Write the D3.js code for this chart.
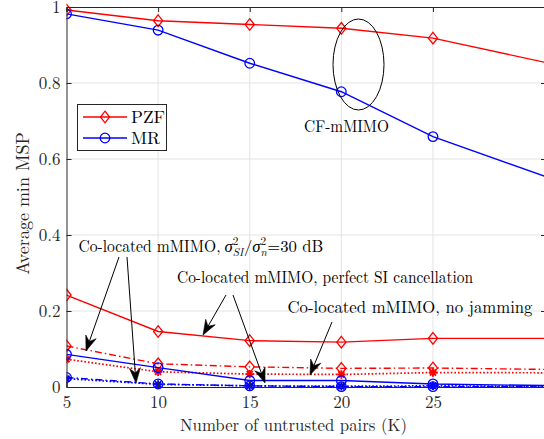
<!DOCTYPE html>
<html>
<head>
<meta charset="utf-8">
<script src="https://cdn.jsdelivr.net/npm/d3@7"></script>
<style>
  html, body { margin: 0; padding: 0; background: #fff; }
</style>
</head>
<body>
<svg id="chart" width="544" height="439"></svg>
<script>
// Number of untrusted pairs
const pairs = [5, 10, 15, 20, 25, 35];

// Average minimum MSP per scheme
const cfPZF        = [0.992, 0.964, 0.954, 0.944, 0.918, 0.814];
const cfMR         = [0.982, 0.939, 0.852, 0.777, 0.659, 0.488];
const coPZFPerfect = [0.242, 0.146, 0.122, 0.118, 0.128, 0.128];
const coPZF30dB    = [0.108, 0.061, 0.053, 0.049, 0.050, 0.044];
const coPZFNoJam   = [0.073, 0.040, 0.034, 0.033, 0.038, 0.037];
const coMRPerfect  = [0.086, 0.051, 0.017, 0.017, 0.008, 0.001];
const coMR30dB     = [0.025, 0.008, 0.003, 0.001, 0.001, 0.000];
const coMRNoJam    = [0.022, 0.007, 0.003, 0.002, 0.003, 0.001];

const xTicks = [5, 10, 15, 20, 25];
const yTicks = [0, 0.2, 0.4, 0.6, 0.8, 1];
const legendLabels = ["PZF", "MR"];

const RED = "#ff0000", BLUE = "#0000ff", AXIS = "#262626", GRID = "#e3e3e3";
const DASHDOT = "7,3,1.5,3", DOTTED = "1.6,2";
const SERIF = "'Latin Modern Roman', 'Liberation Serif', serif";
const GREEK = "'Liberation Serif', serif";

const svg = d3.select("#chart");
const plot = { left: 66.5, right: 546, top: 7, bottom: 387 };

const x = d3.scaleLinear().domain([5, 31.17]).range([plot.left, plot.right]);
const y = d3.scaleLinear().domain([0, 1]).range([plot.bottom, plot.top]);

svg.append("defs").append("clipPath").attr("id", "plotClip")
  .append("rect")
  .attr("x", plot.left).attr("y", plot.top - 8)
  .attr("width", plot.right - plot.left).attr("height", plot.bottom - plot.top + 16);

// grid
const grid = svg.append("g");
grid.selectAll("line.gx").data(xTicks.slice(1)).join("line")
  .attr("x1", d => x(d)).attr("x2", d => x(d))
  .attr("y1", plot.top).attr("y2", plot.bottom)
  .attr("stroke", GRID).attr("stroke-width", 1);
grid.selectAll("line.gy").data(yTicks.slice(1, -1)).join("line")
  .attr("y1", d => y(d)).attr("y2", d => y(d))
  .attr("x1", plot.left).attr("x2", plot.right)
  .attr("stroke", GRID).attr("stroke-width", 1);

// series
const series = [
  { vals: cfPZF,        color: RED,  dash: null,    marker: "diamond" },
  { vals: cfMR,         color: BLUE, dash: null,    marker: "circle" },
  { vals: coPZFPerfect, color: RED,  dash: null,    marker: "diamond" },
  { vals: coPZF30dB,    color: RED,  dash: DASHDOT, marker: "diamond" },
  { vals: coPZFNoJam,   color: RED,  dash: DOTTED,  marker: "star" },
  { vals: coMRPerfect,  color: BLUE, dash: null,    marker: "circle" },
  { vals: coMR30dB,     color: BLUE, dash: DASHDOT, marker: "circle" },
  { vals: coMRNoJam,    color: BLUE, dash: DOTTED,  marker: "star" }
];

const line = d3.line().x(d => x(d.k)).y(d => y(d.v));
const plotG = svg.append("g").attr("clip-path", "url(#plotClip)");

function drawMarker(g, type, cx, cy, color) {
  if (type === "diamond") {
    g.append("path")
      .attr("d", `M${cx},${cy - 5.8}L${cx + 4.6},${cy}L${cx},${cy + 5.8}L${cx - 4.6},${cy}Z`)
      .attr("fill", "none").attr("stroke", color).attr("stroke-width", 1.3);
  } else if (type === "circle") {
    g.append("circle").attr("cx", cx).attr("cy", cy).attr("r", 4.8)
      .attr("fill", "none").attr("stroke", color).attr("stroke-width", 1.3);
  } else {
    const r = 4.2, s = r * 0.72;
    g.append("path")
      .attr("d", `M${cx - r},${cy}L${cx + r},${cy}M${cx},${cy - r}L${cx},${cy + r}` +
                 `M${cx - s},${cy - s}L${cx + s},${cy + s}M${cx - s},${cy + s}L${cx + s},${cy - s}`)
      .attr("fill", "none").attr("stroke", color).attr("stroke-width", 1.9);
  }
}

series.forEach(s => {
  const pts = pairs.map((k, i) => ({ k, v: s.vals[i] }));
  plotG.append("path").datum(pts)
    .attr("d", line)
    .attr("fill", "none")
    .attr("stroke", s.color)
    .attr("stroke-width", s.dash === DOTTED ? 1.7 : 1.4)
    .attr("stroke-dasharray", s.dash);
  const mg = plotG.append("g");
  pts.forEach(p => drawMarker(mg, s.marker, x(p.k), y(p.v), s.color));
});

// axes
const fontSize = 17;
const axB = svg.append("g").attr("transform", `translate(0,${plot.bottom})`)
  .call(d3.axisBottom(x).tickValues(xTicks).tickSize(-5).tickPadding(9).tickFormat(d3.format("d")));
const axL = svg.append("g").attr("transform", `translate(${plot.left},0)`)
  .call(d3.axisLeft(y).tickValues(yTicks).tickSize(-5).tickPadding(6).tickFormat(d => d === 0 || d === 1 ? String(d) : d3.format(".1f")(d)));
const axT = svg.append("g").attr("transform", `translate(0,${plot.top})`)
  .call(d3.axisTop(x).tickValues(xTicks).tickSize(-5).tickFormat(""));
const axR = svg.append("g").attr("transform", `translate(${plot.right},0)`)
  .call(d3.axisRight(y).tickValues(yTicks).tickSize(-5).tickFormat(""));
[axB, axL, axT, axR].forEach(a => {
  a.select(".domain").attr("stroke", AXIS).attr("stroke-width", 1);
  a.selectAll(".tick line").attr("stroke", AXIS).attr("stroke-width", 1);
  a.selectAll(".tick text").attr("fill", AXIS)
    .style("font-family", SERIF).style("font-size", fontSize + "px");
});

function label(parent, txt, size) {
  return parent.append("text").style("font-family", SERIF).style("font-size", size + "px").text(txt);
}

// axis titles
label(svg, "Number of untrusted pairs (K)", 17.5)
  .attr("x", 293.5).attr("y", 431)
  .attr("text-anchor", "middle").attr("fill", AXIS)
  .attr("textLength", 227).attr("lengthAdjust", "spacingAndGlyphs");
label(svg, "Average min MSP", 18)
  .attr("transform", "translate(29,203.5) rotate(-90)")
  .attr("text-anchor", "middle").attr("fill", AXIS);

// legend
const lg = svg.append("g");
lg.append("rect").attr("x", 77.5).attr("y", 104.5).attr("width", 89).attr("height", 46)
  .attr("fill", "#fff").attr("stroke", AXIS).attr("stroke-width", 1);
[{ label: legendLabels[0], color: RED, marker: "diamond", cy: 117 },
 { label: legendLabels[1], color: BLUE, marker: "circle", cy: 138 }].forEach(e => {
  lg.append("line").attr("x1", 83).attr("x2", 127).attr("y1", e.cy).attr("y2", e.cy)
    .attr("stroke", e.color).attr("stroke-width", 1.4);
  drawMarker(lg, e.marker, 105, e.cy, e.color);
  label(lg, e.label, 17.5).attr("x", 131).attr("y", e.cy + 6).attr("fill", "#000");
});

// annotations
const ann = svg.append("g");
ann.append("ellipse").attr("cx", 358.5).attr("cy", 64.5).attr("rx", 25.5).attr("ry", 45.5)
  .attr("fill", "none").attr("stroke", "#000").attr("stroke-width", 1);
label(ann, "CF-mMIMO", 17).attr("x", 346.5).attr("y", 132).attr("text-anchor", "middle")
  .attr("textLength", 85).attr("lengthAdjust", "spacingAndGlyphs");

label(ann, "Co-located mMIMO, perfect SI cancellation", 17)
  .attr("x", 177).attr("y", 283)
  .attr("textLength", 296).attr("lengthAdjust", "spacingAndGlyphs");
label(ann, "Co-located mMIMO, no jamming", 17)
  .attr("x", 287.5).attr("y", 313)
  .attr("textLength", 245).attr("lengthAdjust", "spacingAndGlyphs");

// label with the SI-to-noise ratio: text part, then the ratio set as math
(function () {
  const base = 252;
  const headW = 142;
  label(ann, "Co-located mMIMO,", 17).attr("x", 78.5).attr("y", base)
    .attr("textLength", headW).attr("lengthAdjust", "spacingAndGlyphs");
  const startX = 78.5 + headW + 4;
  const targetW = 99;

  function layout(k) {
    const g = ann.append("g");
    let cx = startX;
    function piece(str, opts) {
      const t = g.append("text").attr("x", cx).attr("y", base + (opts.dy || 0) * k)
        .style("font-family", opts.greek ? GREEK : SERIF)
        .style("font-size", (opts.size || 17) * k + "px")
        .style("font-style", opts.italic ? "italic" : "normal")
        .text(str);
      return t.node().getComputedTextLength();
    }
    function stacked(sup, sub) {
      const w1 = piece(sup, { size: 11.5, dy: -7 });
      const w2 = piece(sub, { size: 11.5, dy: 4, italic: true });
      cx += Math.max(w1, w2) + 0.5 * k;
    }
    cx += piece("σ", { italic: true, greek: true });
    stacked("2", "SI");
    cx += piece("/", {});
    cx += piece("σ", { italic: true, greek: true });
    stacked("2", "n");
    cx += piece("=30 dB", {});
    return { g, w: cx - startX };
  }
  const first = layout(1);
  const k = targetW / first.w;
  first.g.remove();
  layout(Math.max(0.78, Math.min(1.1, k)));
})();

// arrows
const arrows = [
  [119, 257, 86, 351],
  [127, 257, 136, 383],
  [226, 295, 203, 335],
  [233, 295, 265, 383],
  [332, 322, 310, 375]
];
arrows.forEach(([x1, y1, x2, y2]) => {
  const ang = Math.atan2(y2 - y1, x2 - x1);
  const L = 15, Wd = 5.5, N = 10;
  const ca = Math.cos(ang), sa = Math.sin(ang);
  const px = (a, b) => [x2 + a * ca - b * sa, y2 + a * sa + b * ca];
  const p1 = px(-L, -Wd), p2 = px(-N, 0), p3 = px(-L, Wd);
  const stop = px(-N, 0);
  ann.append("line").attr("x1", x1).attr("y1", y1).attr("x2", stop[0]).attr("y2", stop[1])
    .attr("stroke", "#000").attr("stroke-width", 1);
  ann.append("path")
    .attr("d", `M${x2},${y2}L${p1[0]},${p1[1]}L${p2[0]},${p2[1]}L${p3[0]},${p3[1]}Z`)
    .attr("fill", "#000").attr("stroke", "#000").attr("stroke-width", 0.6);
});
</script>
</body>
</html>
